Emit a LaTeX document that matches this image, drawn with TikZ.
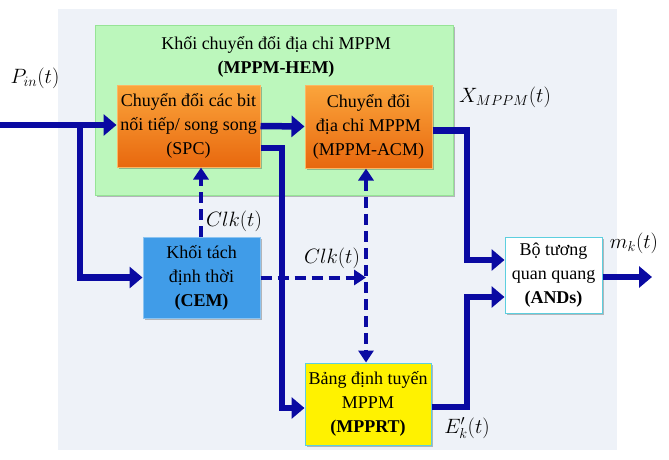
\documentclass[tikz,border=0pt]{standalone}
\usepackage{fontspec}
\setmainfont{Liberation Serif}
\usetikzlibrary{arrows.meta,shadows,calc}
\definecolor{panel}{HTML}{EEF2F8}
\definecolor{greenfill}{HTML}{BCF7BC}
\definecolor{greenline}{HTML}{96E496}
\definecolor{orangetop}{HTML}{FBA53C}
\definecolor{orangebot}{HTML}{E8680E}
\definecolor{cemblue}{HTML}{409CE8}
\definecolor{arrowblue}{HTML}{0A0AA2}
\definecolor{cyanline}{HTML}{5CCFDF}
\tikzset{
  boxfont/.style={font=\fontsize{18}{24}\selectfont},
  box/.style={draw, line width=1pt, align=center, inner sep=0pt, boxfont,
    drop shadow={shadow xshift=2pt, shadow yshift=-2pt, opacity=0.25, fill=black}},
  orangebox/.style={box, draw=orangetop!80!white, top color=orangetop, bottom color=orangebot},
  arr/.style={line width=6.5pt, arrowblue, -{Triangle[length=13pt,width=21pt]}},
  darr/.style={line width=4pt, arrowblue, dash pattern=on 11pt off 6pt, -{Triangle[length=12pt,width=15pt]}},
  darr2/.style={line width=4pt, arrowblue, dash pattern=on 11pt off 6pt, {Triangle[length=12pt,width=15pt]}-{Triangle[length=12pt,width=15pt]}},
  lbl/.style={font=\fontsize{21}{24}\selectfont, inner sep=0pt},
}
\begin{document}
\begin{tikzpicture}[x=1pt,y=-1pt]
\useasboundingbox (0,0) rectangle (669,459);
\fill[panel] (58,9) rectangle (617,450);

\node[box, draw=greenline, fill=greenfill, minimum width=358pt, minimum height=170pt] (hem) at (274,110) {};
\node[boxfont, align=center, inner sep=0pt] (hemtitle) at (276,57) {Khối chuyển đổi địa chỉ MPPM\\\textbf{(MPPM-HEM)}};

\node[orangebox, minimum width=143pt, minimum height=82pt] (spc) at (188.5,126) {Chuyển đổi các bit\\nối tiếp/ song song\\(SPC)};
\node[orangebox, minimum width=127pt, minimum height=83pt] (acm) at (368.5,126.5) {Chuyển đổi\\địa chỉ MPPM\\(MPPM-ACM)};
\node[box, draw=cemblue!60!white, fill=cemblue, minimum width=117pt, minimum height=81pt] (cem) at (201.5,277.5) {Khối tách\\định thời\\\textbf{(CEM)}};
\node[box, draw=cyanline, fill=yellow, minimum width=126pt, minimum height=82pt] (mpprt) at (368,404) {Bảng định tuyến\\MPPM\\\textbf{(MPPRT)}};
\node[box, draw=cyanline, fill=white, minimum width=97pt, minimum height=76pt] (ands) at (553.5,275) {Bộ tương\\quan quang\\\textbf{(ANDs)}};

% coordinates
\coordinate (pinstart) at (0,125);
\coordinate (branch) at (80,125);
\coordinate (spcx) at (282,0);
\coordinate (outx) at (467,0);
\coordinate (clkx) at (201,0);
\coordinate (clkx2) at (366,0);
\coordinate (mkend) at (652,277);

% thick connectors
\draw[arr] (pinstart) -- (spc.west |- pinstart);
\draw[arr] (branch) |- (cem.west);
\draw[arr] (spc.east) -- (acm.west);
\draw[arr] ([yshift=-22pt]spc.east) -| ([yshift=-4pt]mpprt.west -| spcx) -- ([yshift=-4pt]mpprt.west);
\draw[arr] ([yshift=-4pt]acm.east) -| ([yshift=15pt]ands.west -| outx) -- ([yshift=15pt]ands.west);
\draw[arr] ([yshift=-3pt]mpprt.east) -| ([yshift=-22pt]ands.west -| outx) -- ([yshift=-22pt]ands.west);
\draw[arr] (ands.east |- mkend) -- (mkend);

% dashed clock connectors
\draw[darr] (cem.north -| clkx) -- (spc.south -| clkx);
\draw[darr2] (acm.south -| clkx2) -- (mpprt.north -| clkx2);
\draw[darr] (cem.east) -- (cem.east -| clkx2);

% labels
\node[lbl] (pin) at (35,78) {$P_{in}(t)$};
\node[lbl] (xm) at (505,97) {$X_{MPPM}(t)$};
\node[lbl] (clk1) at (234,221) {$Clk(t)$};
\node[lbl] (clk2) at (332,258) {$Clk(t)$};
\node[lbl] (mk) at (634,243) {$m_k(t)$};
\node[lbl] (ek) at (467,428) {$E'_k(t)$};
\end{tikzpicture}
\end{document}
